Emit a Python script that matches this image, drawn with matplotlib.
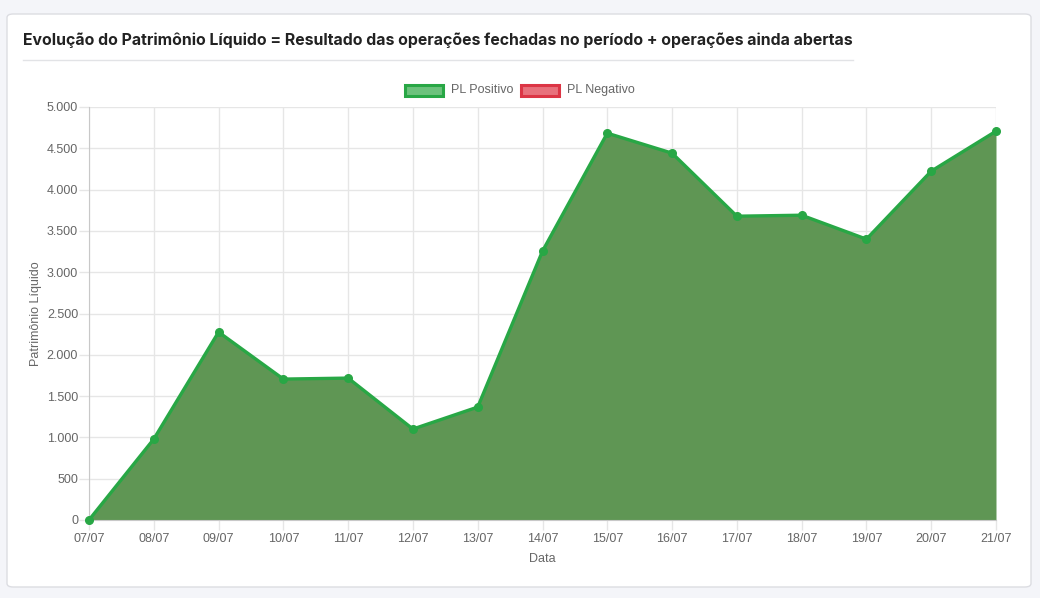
import matplotlib.pyplot as plt
from matplotlib.patches import FancyBboxPatch, Rectangle
from matplotlib.lines import Line2D
from matplotlib.ticker import FuncFormatter

dates = ['07/07', '08/07', '09/07', '10/07', '11/07', '12/07', '13/07', '14/07',
         '15/07', '16/07', '17/07', '18/07', '19/07', '20/07', '21/07']
pl = [0, 980, 2275, 1706, 1718, 1101, 1367, 3255, 4683, 4441, 3678, 3690, 3400, 4223, 4707]

W, H = 1040, 598
fig = plt.figure(figsize=(W / 100, H / 100), dpi=100)
fig.patch.set_facecolor('#f4f5f9')

# white card
card = FancyBboxPatch((7 / W, (H - 587) / H), (1031 - 7) / W, (587 - 14) / H,
                      boxstyle='round,pad=0,rounding_size=0.006',
                      transform=fig.transFigure, facecolor='white',
                      edgecolor='#dcdde2', linewidth=1, zorder=-10)
fig.add_artist(card)

fig.text(23 / W, (H - 40) / H, 'Evolução do Patrimônio Líquido = Resultado das operações fechadas no período + operações ainda abertas',
         fontsize=11.4, fontweight='bold', family=['Inter', 'DejaVu Sans'], color='#222222', va='center')
fig.add_artist(Line2D([23 / W, 853 / W], [(H - 59.5) / H] * 2, transform=fig.transFigure,
                      color='#e2e3e6', linewidth=1))

# legend
fig.add_artist(Rectangle((405 / W, (H - 96) / H), 38 / W, 11 / H, transform=fig.transFigure,
                         facecolor='#6cc27c', edgecolor='#28a745', linewidth=2.2))
fig.text(451 / W, (H - 90) / H, 'PL Positivo', fontsize=9, color='#666666',
         family='Liberation Sans', va='center')
fig.add_artist(Rectangle((521 / W, (H - 96) / H), 38 / W, 11 / H, transform=fig.transFigure,
                         facecolor='#e8717c', edgecolor='#dc3545', linewidth=2.2))
fig.text(567 / W, (H - 90) / H, 'PL Negativo', fontsize=9, color='#666666',
         family='Liberation Sans', va='center')

ax = fig.add_axes([89 / W, (H - 520) / H, (996 - 89) / W, (520 - 107) / H])
ax.set_facecolor('none')
x = list(range(len(dates)))
ax.fill_between(x, pl, 0, color='#5f9654', linewidth=0)
ax.plot(x, pl, color='#28a745', linewidth=2.4, marker='o', markersize=5.5, zorder=3, clip_on=False)

ax.set_xlim(0, len(dates) - 1)
ax.set_ylim(0, 5000)
ax.set_xticks(x)
ax.set_xticklabels(dates)
ax.set_yticks(range(0, 5001, 500))
ax.yaxis.set_major_formatter(FuncFormatter(lambda v, p: f'{int(v):,}'.replace(',', '.')))
ax.grid(True, color='#e6e6e6', linewidth=1)
ax.set_axisbelow(True)
for s in ['top', 'right']:
    ax.spines[s].set_visible(False)
for s in ['left', 'bottom']:
    ax.spines[s].set_color('#c8c8c8')
ax.tick_params(colors='#e6e6e6', labelcolor='#666666', length=7, width=1, labelsize=9)
ax.tick_params(axis='y', pad=0.8)
ax.tick_params(axis='x', pad=2)
for lab in ax.get_xticklabels() + ax.get_yticklabels():
    lab.set_family('Liberation Sans')

ax.set_xlabel('Data', fontsize=9, color='#666666', family='Liberation Sans', labelpad=6)
ax.set_ylabel('Patrimônio Líquido', fontsize=9, color='#666666', family='Liberation Sans', labelpad=3.5)

fig.savefig('out.png', dpi=100, facecolor=fig.get_facecolor())
